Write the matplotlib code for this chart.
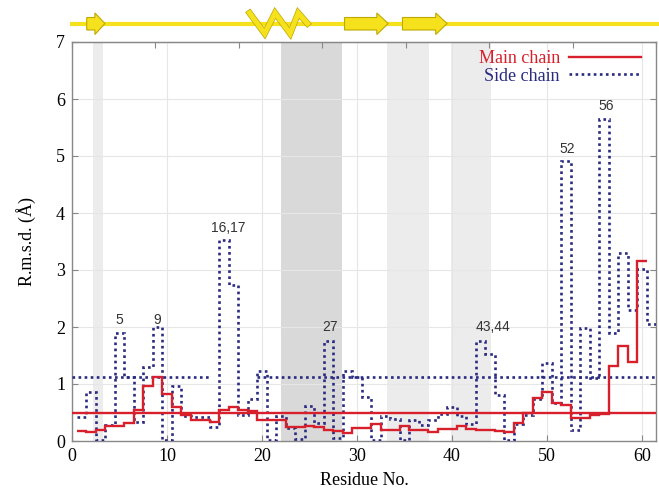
import numpy as np
import matplotlib
matplotlib.use('Agg')
import matplotlib.pyplot as plt
from matplotlib.patches import Polygon
import matplotlib.patheffects as pe

# ---------------- data ----------------
residues_main = list(range(1, 61))
main_chain = [0.18, 0.15, 0.19, 0.27, 0.27, 0.31, 0.55, 0.96, 1.13, 0.82,
              0.59, 0.45, 0.37, 0.37, 0.34, 0.55, 0.60, 0.54, 0.52, 0.37,
              0.37, 0.37, 0.25, 0.25, 0.27, 0.25, 0.20, 0.18, 0.14, 0.22,
              0.22, 0.30, 0.19, 0.19, 0.27, 0.20, 0.20, 0.16, 0.21, 0.21,
              0.26, 0.21, 0.20, 0.20, 0.18, 0.16, 0.32, 0.50, 0.75, 0.86,
              0.66, 0.63, 0.41, 0.40, 0.45, 0.48, 1.32, 1.67, 1.39, 3.15]
residues_side = list(range(1, 62))
side_chain = [0.42, 0.86, 0.02, 0.28, 1.90, 1.13, 0.34, 1.29, 2.00, 0.02,
              0.96, 0.44, 0.42, 0.42, 0.25, 3.52, 2.73, 0.46, 0.73, 1.22,
              0.02, 0.43, 0.23, 0.03, 0.61, 0.32, 1.76, 0.05, 1.22, 1.13,
              0.78, 0.02, 0.43, 0.38, 0.02, 0.37, 0.28, 0.37, 0.48, 0.60,
              0.43, 0.30, 1.75, 1.52, 0.80, 0.02, 0.30, 0.45, 0.74, 1.36,
              0.66, 4.92, 0.19, 1.99, 1.10, 5.65, 1.89, 3.29, 2.29, 3.02, 2.06]
main_mean = 0.50
side_mean = 1.12
side_mean_segments = [(0.0, 14.4), (19.5, 61.5)]
light_bands = [(2.2, 3.3), (33.2, 37.6), (39.9, 44.1)]
dark_bands = [(22.0, 28.4)]
peak_labels = ["5", "9", "16,17", "27", "43,44", "52", "56"]
peak_x = [4.95, 8.95, 16.5, 27.2, 44.3, 52.2, 56.3]
peak_y = [2.12, 2.12, 3.73, 2.0, 2.0, 5.13, 5.87]
strands = [(1.55, 3.47), (28.7, 33.3), (34.8, 39.5)]
helix = (18.7, 24.8)
xticks = [0, 10, 20, 30, 40, 50, 60]
yticks = [0, 1, 2, 3, 4, 5, 6, 7]

RED = '#d7202b'
BLUE = '#2a2a80'
YELLOW = '#f5e11c'
GOLD = '#bfa800'

W, H = 659, 492
fig = plt.figure(figsize=(W / 100, H / 100), dpi=100)
ax_l, ax_r, ax_b, ax_t = 72 / W, 656 / W, 1 - 441 / H, 1 - 42 / H
ax = fig.add_axes([ax_l, ax_b, ax_r - ax_l, ax_t - ax_b])
XMAX = 61.5
ax.set_xlim(0, XMAX)
ax.set_ylim(0, 7)

for a, b in light_bands:
    ax.axvspan(a, b, color='#ececec', lw=0, zorder=0)
for a, b in dark_bands:
    ax.axvspan(a, b, color='#d9d9d9', lw=0, zorder=0)

ax.grid(True, color='#e6e6e6', lw=0.8, zorder=0.5)
ax.set_axisbelow(True)

rm = np.array(residues_main, dtype=float)
rs = np.array(residues_side, dtype=float)
edges_m = np.append(rm - 0.5, rm[-1] + 0.5)
edges_s = np.append(rs - 0.5, rs[-1] + 0.5)

ax.stairs(side_chain, edges_s, baseline=None, color=BLUE, lw=1.9,
          linestyle=(0, (1, 1.3)), zorder=3)
for a, b in side_mean_segments:
    ax.plot([a, b], [side_mean, side_mean], color=BLUE, lw=1.9,
            linestyle=(0, (1, 1.3)), zorder=3)
ax.stairs(main_chain, edges_m, baseline=None, color=RED, lw=1.7, zorder=4)
ax.axhline(main_mean, color=RED, lw=1.7, zorder=4)

# legend handles
h1, = ax.plot([], [], color=RED, lw=1.7, label='Main chain')
h2, = ax.plot([], [], color=BLUE, lw=1.9, linestyle=(0, (1, 1.3)), label='Side chain')
leg = ax.legend(handles=[h1, h2], loc='upper right', frameon=False,
                markerfirst=False, labelcolor='linecolor', handlelength=4.0,
                prop={'family': 'Liberation Serif', 'size': 13},
                borderaxespad=0.1, labelspacing=0.05, handletextpad=0.5,
                bbox_to_anchor=(0.99, 1.003))

for lab, x, y in zip(peak_labels, peak_x, peak_y):
    ax.text(x, y, lab, ha='center', va='center', fontsize=10,
            family='Liberation Sans', color='#333333', zorder=5)

ax.set_xticks(xticks)
ax.set_yticks(yticks)
ax.tick_params(direction='in', length=4, color='#888888', labelsize=13,
               right=True, top=False, pad=5)
for lab in ax.get_xticklabels() + ax.get_yticklabels():
    lab.set_family('Liberation Serif')
for s in ax.spines.values():
    s.set_color('#888888')
    s.set_linewidth(1.0)

# top ticks: 7 equal divisions of the frame
ax_top = ax.secondary_xaxis('top', functions=(lambda x: x / XMAX * 7, lambda x: x * XMAX / 7))
ax_top.set_xticks(range(8))
ax_top.tick_params(direction='in', length=4, color='#888888', labeltop=False)
ax_top.spines['top'].set_color('#888888')

ax.set_ylabel('R.m.s.d. (Å)', family='Liberation Serif', fontsize=13, labelpad=14)
ax.set_xlabel('Residue No.', family='Liberation Serif', fontsize=13, labelpad=5)

# secondary-structure banner
bx = fig.add_axes([ax_l, 1 - 45 / H, ax_r - ax_l, 45 / H])
bx.set_xlim(0, XMAX)
bx.set_ylim(45, 0)
bx.axis('off')
yc = 23.5
bx.plot([-0.2, 62.5], [yc, yc], color=YELLOW, lw=3.0, clip_on=False, zorder=1,
        solid_capstyle='butt')
for (a, b) in strands:
    hl = min(1.2, (b - a) * 0.55)
    bt, bb = yc - 6.0, yc + 6.5
    ht, hb = yc - 10.5, yc + 11.0
    pts = [(a, bt), (b - hl, bt), (b - hl, ht), (b, yc), (b - hl, hb), (b - hl, bb), (a, bb)]
    bx.add_patch(Polygon(pts, closed=True, facecolor=YELLOW, edgecolor=GOLD,
                         lw=0.8, zorder=3, clip_on=False))
h0, h1x = helix
span = h1x - h0
hx = [h0, h0 + 0.26 * span, h0 + 0.44 * span, h0 + 0.70 * span, h0 + 0.84 * span, h1x]
hy = [13.0, 33.5, 13.0, 33.5, 13.0, 23.5]
bx.plot(hx, hy, color=YELLOW, lw=3.6, zorder=3, solid_joinstyle='miter',
        path_effects=[pe.Stroke(linewidth=4.6, foreground=GOLD), pe.Normal()],
        clip_on=False)

fig.savefig('out.png', dpi=100)
